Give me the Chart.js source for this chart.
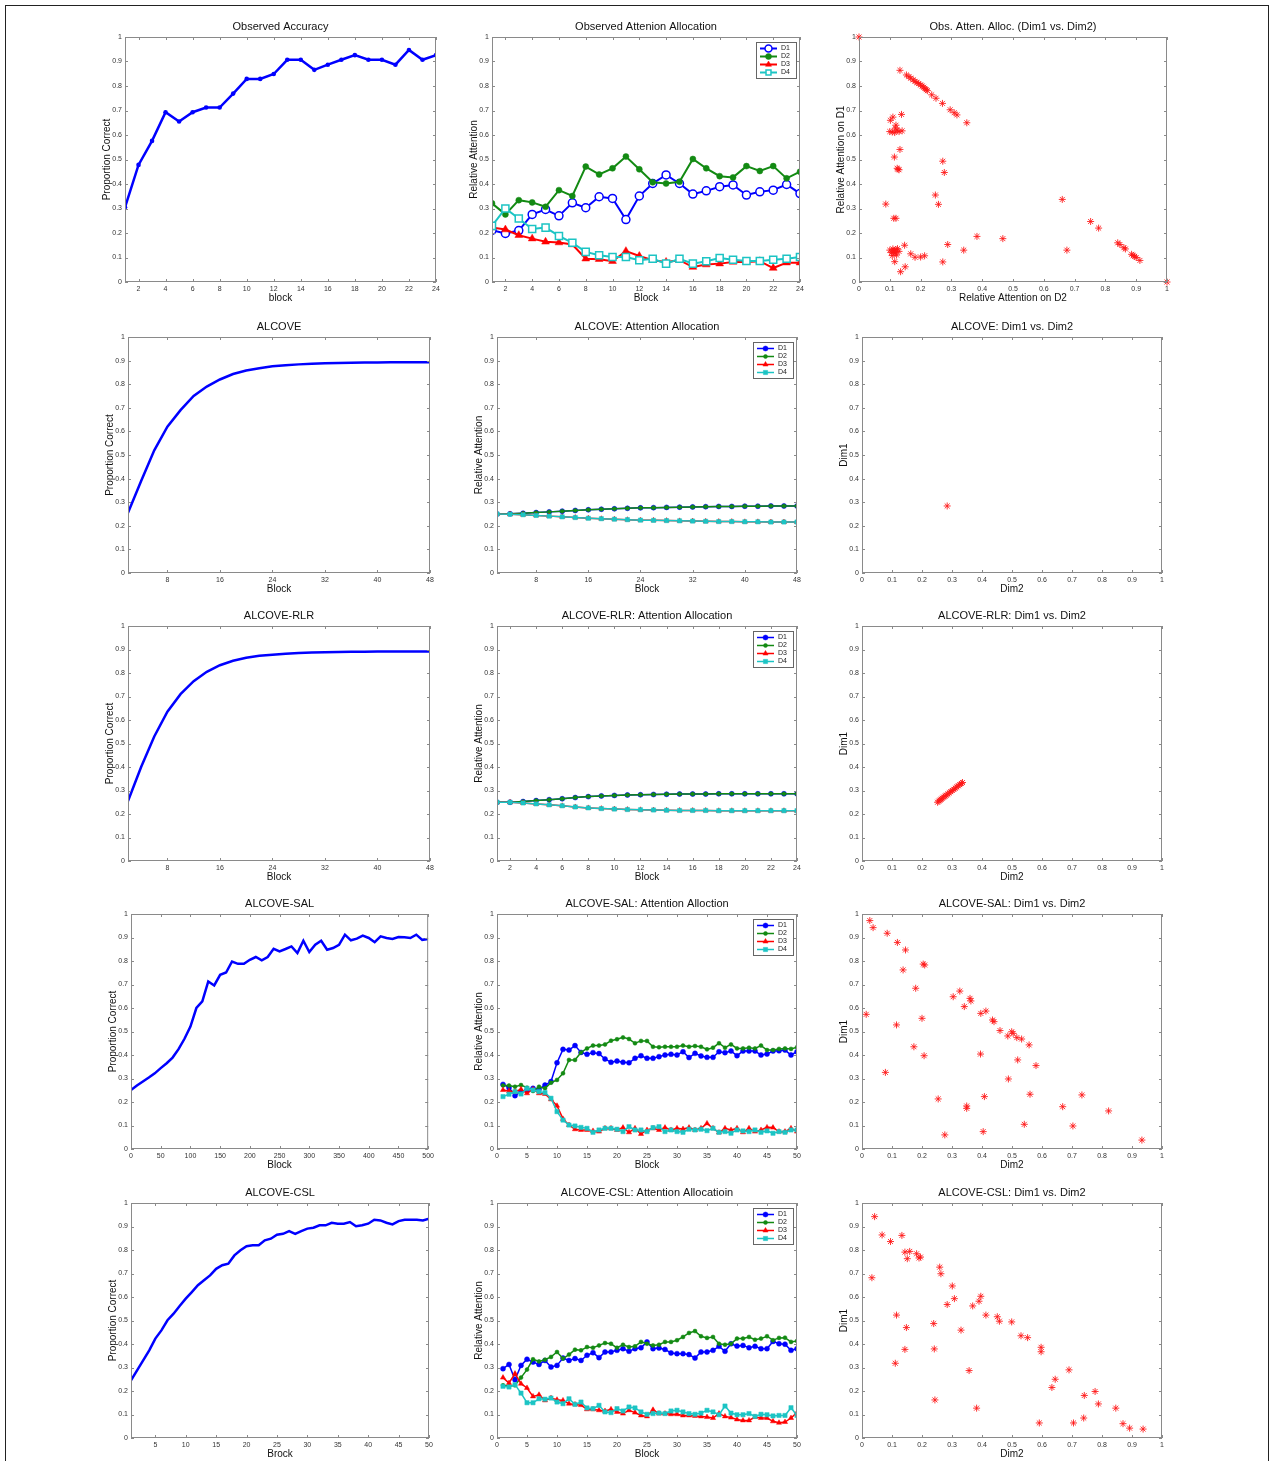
<!DOCTYPE html>
<html>
<head>
<meta charset="utf-8">
<title>Observed vs. ALCOVE attention allocation</title>
<script src="https://cdn.jsdelivr.net/npm/chart.js@4.4.0/dist/chart.umd.min.js"></script>
<style>
  html, body { margin: 0; padding: 0; background: #fff; overflow: hidden; }
  #page { position: relative; width: 1272px; height: 1461px; }
  #frame { position: absolute; left: 5px; top: 5px; width: 1262px; height: 1470px; border: 1px solid #222; }
  canvas { position: absolute; }
</style>
</head>
<body>
<div id="page"><div id="frame"></div></div>
<script>
// ===========================================
// DATA
// ===========================================

// block axes + tick labels
const blocks24 = [1, 2, 3, 4, 5, 6, 7, 8, 9, 10, 11, 12, 13, 14, 15, 16, 17, 18, 19, 20, 21, 22, 23, 24];
const ticks24 = [2, 4, 6, 8, 10, 12, 14, 16, 18, 20, 22, 24];
const blocksEven48 = [2, 4, 6, 8, 10, 12, 14, 16, 18, 20, 22, 24, 26, 28, 30, 32, 34, 36, 38, 40, 42, 44, 46, 48];
const ticks48 = [8, 16, 24, 32, 40, 48];
const blocks50 = [1, 2, 3, 4, 5, 6, 7, 8, 9, 10, 11, 12, 13, 14, 15, 16, 17, 18, 19, 20, 21, 22, 23, 24, 25,
  26, 27, 28, 29, 30, 31, 32, 33, 34, 35, 36, 37, 38, 39, 40, 41, 42, 43, 44, 45, 46, 47, 48, 49, 50];
const ticks50 = [0, 5, 10, 15, 20, 25, 30, 35, 40, 45, 50];
const ticks50NoZero = [5, 10, 15, 20, 25, 30, 35, 40, 45, 50];
const blocks500 = [0, 10, 20, 30, 40, 50, 60, 70, 80, 90, 100, 110, 120, 130, 140, 150, 160, 170, 180, 190, 200,
  210, 220, 230, 240, 250, 260, 270, 280, 290, 300, 310, 320, 330, 340, 350, 360, 370, 380, 390, 400,
  410, 420, 430, 440, 450, 460, 470, 480, 490, 500];
const ticks500 = [0, 50, 100, 150, 200, 250, 300, 350, 400, 450, 500];
const unitTicks = [0, 0.1, 0.2, 0.3, 0.4, 0.5, 0.6, 0.7, 0.8, 0.9, 1];

// row 1: observed
const obsAccuracy = [0.305, 0.478, 0.576, 0.693, 0.655, 0.693, 0.712, 0.712, 0.769, 0.829, 0.829, 0.849,
  0.907, 0.907, 0.866, 0.887, 0.907, 0.926, 0.907, 0.907, 0.887, 0.947, 0.907, 0.926];
const obsD1 = [0.211, 0.198, 0.21, 0.276, 0.296, 0.27, 0.323, 0.303, 0.348, 0.341, 0.255, 0.351,
  0.402, 0.437, 0.402, 0.359, 0.372, 0.389, 0.396, 0.355, 0.368, 0.375, 0.398, 0.361];
const obsD2 = [0.321, 0.276, 0.334, 0.325, 0.307, 0.375, 0.351, 0.471, 0.439, 0.464, 0.512, 0.46,
  0.407, 0.402, 0.409, 0.502, 0.464, 0.432, 0.427, 0.473, 0.453, 0.473, 0.423, 0.45];
const obsD3 = [0.222, 0.214, 0.191, 0.177, 0.164, 0.161, 0.153, 0.095, 0.093, 0.085, 0.126, 0.106,
  0.089, 0.082, 0.089, 0.061, 0.071, 0.075, 0.082, 0.082, 0.085, 0.057, 0.079, 0.079];
const obsD4 = [0.229, 0.3, 0.259, 0.216, 0.222, 0.188, 0.16, 0.123, 0.109, 0.102, 0.102, 0.089,
  0.095, 0.075, 0.095, 0.075, 0.085, 0.098, 0.091, 0.086, 0.086, 0.091, 0.095, 0.102];
const obsDim2 = [0, 1, 0.133, 0.154, 0.162, 0.168, 0.176, 0.182, 0.188, 0.194, 0.2, 0.205, 0.21, 0.214, 0.218, 0.222,
  0.236, 0.25, 0.271, 0.296, 0.309, 0.318, 0.35,
  0.102, 0.11, 0.138, 0.1, 0.108, 0.116, 0.12, 0.118, 0.124, 0.13, 0.14, 0.115, 0.133, 0.124, 0.13, 0.127,
  0.087, 0.113, 0.12,
  0.1, 0.105, 0.11, 0.112, 0.116, 0.12, 0.122, 0.125, 0.108, 0.115, 0.13, 0.118, 0.116,
  0.135, 0.15, 0.148, 0.168, 0.182, 0.2, 0.213,
  0.248, 0.258, 0.272, 0.277, 0.272, 0.288, 0.34, 0.383, 0.467,
  0.66, 0.675, 0.752, 0.778, 0.84, 0.847, 0.86, 0.865, 0.885, 0.89, 0.895, 0.9, 0.912];
const obsDim1 = [1, 0, 0.864, 0.845, 0.838, 0.832, 0.825, 0.819, 0.814, 0.81, 0.804, 0.8, 0.795, 0.79, 0.785, 0.781,
  0.764, 0.75, 0.729, 0.703, 0.691, 0.682, 0.65,
  0.66, 0.673, 0.684, 0.614, 0.612, 0.61, 0.64, 0.628, 0.62, 0.614, 0.617, 0.51, 0.541, 0.464, 0.458, 0.46,
  0.318, 0.26, 0.26,
  0.13, 0.12, 0.135, 0.125, 0.118, 0.132, 0.11, 0.136, 0.108, 0.128, 0.125, 0.12, 0.083,
  0.042, 0.062, 0.15, 0.115, 0.101, 0.102, 0.107,
  0.355, 0.317, 0.493, 0.447, 0.082, 0.153, 0.13, 0.186, 0.177,
  0.337, 0.13, 0.247, 0.22, 0.16, 0.153, 0.14, 0.135, 0.113, 0.108, 0.105, 0.1, 0.088];

// row 2: ALCOVE (D1 sits under D2, D3 under D4)
const alcoveAccuracy = [0.255, 0.39, 0.52, 0.62, 0.69, 0.75, 0.79, 0.82, 0.843, 0.858, 0.868, 0.876,
  0.88, 0.884, 0.887, 0.889, 0.89, 0.891, 0.892, 0.892, 0.893, 0.893, 0.893, 0.893];
const alcoveD12 = [0.25, 0.251, 0.253, 0.256, 0.259, 0.262, 0.265, 0.268, 0.27, 0.272, 0.274, 0.276,
  0.277, 0.278, 0.279, 0.28, 0.281, 0.282, 0.282, 0.283, 0.283, 0.284, 0.284, 0.284];
const alcoveD34 = [0.25, 0.249, 0.247, 0.244, 0.241, 0.238, 0.235, 0.232, 0.23, 0.228, 0.226, 0.224,
  0.223, 0.222, 0.221, 0.22, 0.219, 0.218, 0.218, 0.217, 0.217, 0.216, 0.216, 0.216];
const alcoveDim2 = [0.284];
const alcoveDim1 = [0.284];

// row 3: ALCOVE-RLR
const rlrAccuracy = [0.255, 0.4, 0.53, 0.635, 0.71, 0.765, 0.805, 0.833, 0.852, 0.865, 0.873, 0.878,
  0.882, 0.885, 0.887, 0.888, 0.889, 0.89, 0.89, 0.891, 0.891, 0.891, 0.892, 0.892];
const rlrD12 = [0.25, 0.25, 0.253, 0.257, 0.261, 0.265, 0.27, 0.274, 0.277, 0.279, 0.281, 0.282,
  0.283, 0.284, 0.285, 0.285, 0.285, 0.286, 0.286, 0.286, 0.286, 0.286, 0.286, 0.286];
const rlrD34 = [0.25, 0.25, 0.247, 0.243, 0.239, 0.235, 0.23, 0.226, 0.223, 0.221, 0.219, 0.218,
  0.217, 0.216, 0.215, 0.215, 0.215, 0.214, 0.214, 0.214, 0.214, 0.214, 0.214, 0.214];
const rlrDim2 = [0.252, 0.256, 0.26, 0.264, 0.268, 0.272, 0.277, 0.281, 0.286, 0.291, 0.296, 0.301, 0.306, 0.311, 0.316, 0.321, 0.326, 0.331, 0.335];
const rlrDim1 = [0.25, 0.255, 0.259, 0.263, 0.267, 0.272, 0.276, 0.28, 0.285, 0.29, 0.295, 0.3, 0.305, 0.31, 0.315, 0.32, 0.325, 0.33, 0.334];

// row 4: ALCOVE-SAL
const salAccuracy = [0.251, 0.27, 0.287, 0.304, 0.322, 0.344, 0.365, 0.389, 0.425, 0.469, 0.521, 0.6, 0.628,
  0.713, 0.696, 0.741, 0.751, 0.798, 0.788, 0.788, 0.805, 0.817, 0.803, 0.817, 0.852, 0.841, 0.851, 0.862,
  0.834, 0.886, 0.838, 0.869, 0.886, 0.848, 0.855, 0.869, 0.912, 0.888, 0.895, 0.908, 0.898, 0.88, 0.905,
  0.898, 0.894, 0.902, 0.901, 0.898, 0.912, 0.89, 0.894];
const salD1 = [0.275, 0.261, 0.227, 0.244, 0.251, 0.258, 0.254, 0.272, 0.287, 0.367, 0.424, 0.421, 0.44, 0.411, 0.403, 0.41, 0.406,
  0.383, 0.369, 0.374, 0.369, 0.367, 0.386, 0.397, 0.386, 0.386, 0.393, 0.4, 0.403, 0.4, 0.414, 0.389, 0.407, 0.396,
  0.39, 0.39, 0.414, 0.41, 0.417, 0.397, 0.417, 0.417, 0.417, 0.4, 0.404, 0.417, 0.418, 0.421, 0.4, 0.414];
const salD2 = [0.27, 0.27, 0.265, 0.272, 0.261, 0.247, 0.265, 0.258, 0.282, 0.294, 0.322, 0.379, 0.379, 0.411, 0.428, 0.44, 0.44,
  0.445, 0.461, 0.467, 0.475, 0.468, 0.45, 0.46, 0.46, 0.435, 0.433, 0.435, 0.435, 0.435, 0.44, 0.435, 0.438, 0.435,
  0.424, 0.431, 0.45, 0.431, 0.445, 0.428, 0.428, 0.431, 0.428, 0.44, 0.421, 0.421, 0.426, 0.428, 0.426, 0.433];
const salD3 = [0.251, 0.247, 0.244, 0.254, 0.237, 0.254, 0.237, 0.234, 0.211, 0.184, 0.128, 0.102, 0.084, 0.081, 0.081, 0.077, 0.074,
  0.088, 0.088, 0.081, 0.091, 0.071, 0.088, 0.064, 0.081, 0.088, 0.081, 0.091, 0.081, 0.088, 0.085, 0.091, 0.081, 0.088,
  0.109, 0.088, 0.07, 0.088, 0.081, 0.088, 0.071, 0.088, 0.074, 0.081, 0.092, 0.091, 0.074, 0.074, 0.088, 0.074];
const salD4 = [0.223, 0.233, 0.244, 0.234, 0.258, 0.251, 0.244, 0.24, 0.216, 0.159, 0.123, 0.102, 0.098, 0.092, 0.088, 0.071, 0.081,
  0.088, 0.088, 0.084, 0.074, 0.095, 0.081, 0.081, 0.074, 0.091, 0.095, 0.074, 0.081, 0.074, 0.071, 0.084, 0.081, 0.084,
  0.078, 0.088, 0.071, 0.074, 0.067, 0.081, 0.077, 0.074, 0.081, 0.071, 0.077, 0.067, 0.074, 0.071, 0.081, 0.081];
const salDim2 = [0.026, 0.037, 0.084, 0.118, 0.145, 0.137, 0.204, 0.209, 0.179, 0.014, 0.115, 0.2, 0.173, 0.207, 0.078,
  0.304, 0.326, 0.341, 0.36, 0.363, 0.396, 0.413, 0.435, 0.44, 0.46, 0.486, 0.499, 0.504, 0.516, 0.532, 0.557,
  0.395, 0.519, 0.58, 0.488, 0.254, 0.349, 0.349, 0.408, 0.56, 0.276, 0.404, 0.541, 0.669, 0.703, 0.733, 0.822, 0.933];
const salDim1 = [0.972, 0.942, 0.918, 0.879, 0.847, 0.762, 0.787, 0.783, 0.684, 0.573, 0.528, 0.556, 0.435, 0.397, 0.326,
  0.648, 0.672, 0.606, 0.641, 0.63, 0.577, 0.587, 0.549, 0.542, 0.504, 0.481, 0.499, 0.492, 0.474, 0.468, 0.443,
  0.404, 0.379, 0.355, 0.298, 0.213, 0.183, 0.173, 0.223, 0.233, 0.06, 0.074, 0.105, 0.18, 0.098, 0.23, 0.162, 0.038];

// row 5: ALCOVE-CSL
const cslAccuracy = [0.245, 0.288, 0.33, 0.373, 0.423, 0.458, 0.501, 0.529, 0.562, 0.593, 0.621, 0.65, 0.671, 0.692, 0.72,
  0.735, 0.742, 0.777, 0.799, 0.816, 0.82, 0.82, 0.841, 0.848, 0.865, 0.869, 0.88, 0.869, 0.88, 0.891, 0.895, 0.905,
  0.905, 0.916, 0.912, 0.912, 0.919, 0.901, 0.905, 0.912, 0.929, 0.926, 0.916, 0.909, 0.923, 0.929, 0.929, 0.929, 0.926, 0.933];
const cslD1 = [0.295, 0.313, 0.248, 0.309, 0.335, 0.323, 0.313, 0.33, 0.302, 0.309, 0.34, 0.33, 0.338, 0.33, 0.352, 0.363, 0.342,
  0.366, 0.366, 0.373, 0.38, 0.369, 0.38, 0.384, 0.409, 0.38, 0.383, 0.377, 0.362, 0.359, 0.359, 0.355, 0.34, 0.366,
  0.366, 0.373, 0.39, 0.369, 0.401, 0.391, 0.394, 0.384, 0.39, 0.38, 0.38, 0.411, 0.401, 0.399, 0.373, 0.38];
const cslD2 = [0.224, 0.22, 0.224, 0.257, 0.291, 0.335, 0.326, 0.333, 0.345, 0.366, 0.338, 0.355, 0.376, 0.373, 0.387, 0.384, 0.394,
  0.404, 0.401, 0.384, 0.397, 0.387, 0.39, 0.409, 0.401, 0.394, 0.397, 0.409, 0.409, 0.416, 0.43, 0.447, 0.455, 0.433,
  0.426, 0.43, 0.401, 0.397, 0.401, 0.423, 0.423, 0.43, 0.418, 0.423, 0.433, 0.416, 0.426, 0.427, 0.409, 0.413];
const cslD3 = [0.257, 0.234, 0.274, 0.231, 0.213, 0.177, 0.184, 0.16, 0.17, 0.163, 0.16, 0.146, 0.143, 0.14, 0.122, 0.122, 0.118,
  0.115, 0.122, 0.111, 0.104, 0.118, 0.108, 0.096, 0.092, 0.12, 0.104, 0.104, 0.101, 0.101, 0.096, 0.096, 0.094, 0.092,
  0.089, 0.085, 0.104, 0.092, 0.087, 0.079, 0.075, 0.075, 0.089, 0.085, 0.085, 0.071, 0.065, 0.068, 0.085, 0.108];
const cslD4 = [0.22, 0.217, 0.227, 0.191, 0.15, 0.15, 0.167, 0.165, 0.17, 0.153, 0.146, 0.167, 0.143, 0.153, 0.128, 0.125, 0.139,
  0.111, 0.108, 0.125, 0.115, 0.132, 0.128, 0.111, 0.101, 0.104, 0.106, 0.104, 0.115, 0.118, 0.111, 0.104, 0.101, 0.106,
  0.118, 0.111, 0.099, 0.136, 0.106, 0.099, 0.099, 0.104, 0.092, 0.101, 0.099, 0.094, 0.096, 0.096, 0.129, 0.096];
const cslDim2 = [0.042, 0.067, 0.095, 0.133, 0.143, 0.159, 0.151, 0.182, 0.19, 0.195, 0.033, 0.259, 0.263, 0.301, 0.308,
  0.284, 0.369, 0.39, 0.396, 0.413, 0.451, 0.458, 0.499, 0.115, 0.148, 0.239, 0.33, 0.143, 0.241, 0.111, 0.53, 0.552,
  0.597, 0.597, 0.357, 0.243, 0.382, 0.591, 0.633, 0.644, 0.69, 0.705, 0.741, 0.739, 0.777, 0.788, 0.846, 0.87, 0.892, 0.937];
const cslDim1 = [0.942, 0.864, 0.836, 0.862, 0.791, 0.794, 0.763, 0.784, 0.766, 0.77, 0.682, 0.727, 0.699, 0.647, 0.593,
  0.568, 0.562, 0.582, 0.603, 0.523, 0.516, 0.497, 0.494, 0.523, 0.47, 0.487, 0.459, 0.377, 0.379, 0.318, 0.435, 0.427,
  0.386, 0.367, 0.287, 0.162, 0.127, 0.064, 0.215, 0.25, 0.29, 0.064, 0.181, 0.085, 0.198, 0.145, 0.127, 0.061, 0.042, 0.038];

// ===========================================
// STYLE
// ===========================================
const FONT = '"Liberation Sans", Arial, Helvetica, sans-serif';
const BLUE = '#0000ff', GREEN = '#138a13', RED = '#ff0000', CYAN = '#1cc4c4';
const AXIS_GRAY = '#8a8a8a';
const PAD_L = 26, PAD_T = 26, PAD_R = 8, PAD_B = 24;

// plot-area boxes per column (left, right) and row (top, bottom)
const COLS = [[[125, 436], [492, 800], [859, 1167]],
              [[128, 430], [497, 797], [862, 1162]],
              [[128, 430], [497, 797], [862, 1162]],
              [[131, 429], [497, 797], [862, 1162]],
              [[131, 429], [497, 797], [862, 1162]]];
const ROWS = [[37, 282], [337, 573], [626, 861], [914, 1149], [1203, 1438]];

// MATLAB-ish axes box with inward ticks on all four sides
const axesBox = {
  id: 'axesBox',
  afterDatasetsDraw(chart) {
    const { ctx, chartArea: a, scales: { x, y } } = chart;
    ctx.save();
    ctx.strokeStyle = AXIS_GRAY;
    ctx.lineWidth = 1;
    ctx.strokeRect(a.left + 0.5, a.top + 0.5, a.right - a.left - 1, a.bottom - a.top - 1);
    ctx.beginPath();
    x.ticks.forEach(t => {
      const px = Math.round(x.getPixelForValue(t.value)) + 0.5;
      ctx.moveTo(px, a.bottom); ctx.lineTo(px, a.bottom - 3);
      ctx.moveTo(px, a.top); ctx.lineTo(px, a.top + 3);
    });
    y.ticks.forEach(t => {
      const py = Math.round(y.getPixelForValue(t.value)) + 0.5;
      ctx.moveTo(a.left, py); ctx.lineTo(a.left + 3, py);
      ctx.moveTo(a.right, py); ctx.lineTo(a.right - 3, py);
    });
    ctx.stroke();
    ctx.restore();
  }
};

// small boxed legend in the top right of the plot area
const boxLegend = {
  id: 'boxLegend',
  afterDraw(chart, args, opts) {
    if (!opts.show) return;
    const { ctx, chartArea: a } = chart;
    const sets = chart.data.datasets;
    const rowH = 8, w = 40, h = sets.length * rowH + 4;
    const x0 = Math.round(a.right - w - 4), y0 = Math.round(a.top + 5);
    ctx.save();
    ctx.fillStyle = '#fff';
    ctx.fillRect(x0, y0, w, h);
    ctx.strokeStyle = '#666';
    ctx.lineWidth = 1;
    ctx.strokeRect(x0 + 0.5, y0 + 0.5, w, h);
    sets.forEach((ds, i) => {
      const cy = y0 + 2 + rowH * i + rowH / 2 + 0.5;
      ctx.strokeStyle = ds.borderColor;
      ctx.lineWidth = ds.borderWidth;
      ctx.beginPath(); ctx.moveTo(x0 + 4, cy); ctx.lineTo(x0 + 21, cy); ctx.stroke();
      ctx.fillStyle = ds.pointBackgroundColor;
      ctx.strokeStyle = ds.pointBorderColor;
      ctx.lineWidth = ds.pointBorderWidth;
      Chart.helpers.drawPoint(ctx, { pointStyle: ds.pointStyle, radius: Math.min(ds.pointRadius, 3.5), rotation: 0, borderWidth: ds.pointBorderWidth }, x0 + 12.5, cy);
      ctx.fillStyle = '#222';
      ctx.font = '7px ' + FONT;
      ctx.textBaseline = 'middle';
      ctx.fillText(ds.label, x0 + 25, cy);
    });
    ctx.restore();
  }
};

Chart.register(axesBox, boxLegend);

// ===========================================
// DATASET HELPERS
// ===========================================
function accuracySet(values, withDots) {
  return {
    label: 'Accuracy', data: values, borderColor: BLUE, backgroundColor: BLUE, borderWidth: 2.5,
    pointRadius: withDots ? 2.3 : 0, pointStyle: 'circle', pointBackgroundColor: BLUE, pointBorderWidth: 0
  };
}

function attnSet(label, values, color, marker, radius, hollow, lineWidth, order) {
  return {
    label, data: values, order,
    borderColor: color, backgroundColor: color, borderWidth: lineWidth,
    pointStyle: marker, pointRadius: radius,
    pointBackgroundColor: hollow ? '#fff' : color, pointBorderColor: color,
    pointBorderWidth: hollow ? 1.5 : 0.5
  };
}

function observedAttnSets() {
  return [
    attnSet('D1', obsD1, BLUE, 'circle', 4, true, 2, 4),
    attnSet('D2', obsD2, GREEN, 'circle', 3, false, 2, 3),
    attnSet('D3', obsD3, RED, 'triangle', 4.5, false, 2, 2),
    attnSet('D4', obsD4, CYAN, 'rect', 5, true, 2, 1)
  ];
}

function modelAttnSets(d1, d2, d3, d4) {
  return [
    attnSet('D1', d1, BLUE, 'circle', 2.5, false, 1.5, 4),
    attnSet('D2', d2, GREEN, 'circle', 2, false, 1.5, 3),
    attnSet('D3', d3, RED, 'triangle', 3, false, 1.5, 2),
    attnSet('D4', d4, CYAN, 'rect', 3, false, 1.5, 1)
  ];
}

function starSet(xs, ys) {
  return {
    label: 'Dim1 vs. Dim2', data: xs.map((x, i) => ({ x, y: ys[i] })), showLine: false, clip: 4,
    pointStyle: 'star', pointRadius: 3.5, pointBorderWidth: 1,
    pointBorderColor: 'rgba(255,20,20,0.85)', pointBackgroundColor: 'rgba(255,20,20,0.85)', borderColor: RED
  };
}

function axis(isX, min, max, tickValues, titleText) {
  return {
    type: 'linear', min, max,
    afterBuildTicks: s => { s.ticks = tickValues.map(v => ({ value: v })); },
    afterFit: s => { if (isX) s.height = PAD_B; else s.width = PAD_L; },
    grid: { display: false, drawTicks: false },
    border: { display: false },
    ticks: { font: { family: FONT, size: 7 }, color: '#333', padding: 3, autoSkip: false, maxRotation: 0, callback: v => String(v) },
    title: {
      display: true, text: titleText, color: '#111',
      font: { family: FONT, size: 10 },
      padding: isX ? { top: 0, bottom: 2 } : { top: 2, bottom: 0 }
    }
  };
}

// ===========================================
// PANEL BUILDER
// ===========================================
function makePanel(row, col, spec) {
  const [l, r] = COLS[row][col];
  const [t, b] = ROWS[row];
  const canvas = document.createElement('canvas');
  canvas.width = r - l + PAD_L + PAD_R;
  canvas.height = b - t + PAD_T + PAD_B;
  canvas.style.left = (l - PAD_L) + 'px';
  canvas.style.top = (t - PAD_T) + 'px';
  document.getElementById('page').appendChild(canvas);

  return new Chart(canvas, {
    type: 'line',
    data: { labels: spec.labels || [], datasets: spec.datasets },
    options: {
      responsive: false,
      animation: false,
      events: [],
      layout: { padding: { top: 8, right: PAD_R, left: 0, bottom: 0 }, autoPadding: false },
      plugins: {
        legend: { display: false },
        tooltip: { enabled: false },
        title: {
          display: true, text: spec.title, fullSize: false, color: '#111',
          font: { family: FONT, size: 11, weight: 'normal', lineHeight: 1 },
          padding: { top: 2, bottom: 5 }
        },
        boxLegend: { show: !!spec.legend }
      },
      scales: {
        x: axis(true, spec.xMin, spec.xMax, spec.xTicks, spec.xTitle),
        y: axis(false, 0, 1, unitTicks, spec.yTitle)
      }
    }
  });
}

// ===========================================
// BUILD THE 5 x 3 GRID
// ===========================================
// row 1: observed data
makePanel(0, 0, { title: 'Observed Accuracy', labels: blocks24, datasets: [accuracySet(obsAccuracy, true)],
  xMin: 1, xMax: 24, xTicks: ticks24, xTitle: 'block', yTitle: 'Proportion Correct' });
makePanel(0, 1, { title: 'Observed Attenion Allocation', labels: blocks24, datasets: observedAttnSets(), legend: true,
  xMin: 1, xMax: 24, xTicks: ticks24, xTitle: 'Block', yTitle: 'Relative Attention' });
makePanel(0, 2, { title: 'Obs. Atten. Alloc. (Dim1 vs. Dim2)', datasets: [starSet(obsDim2, obsDim1)],
  xMin: 0, xMax: 1, xTicks: unitTicks, xTitle: 'Relative Attention on D2', yTitle: 'Relative Attention on D1' });

// row 2: ALCOVE
makePanel(1, 0, { title: 'ALCOVE', labels: blocksEven48, datasets: [accuracySet(alcoveAccuracy, false)],
  xMin: 2, xMax: 48, xTicks: ticks48, xTitle: 'Block', yTitle: 'Proportion Correct' });
makePanel(1, 1, { title: 'ALCOVE: Attention Allocation', labels: blocksEven48, legend: true,
  datasets: modelAttnSets(alcoveD12, alcoveD12, alcoveD34, alcoveD34),
  xMin: 2, xMax: 48, xTicks: ticks48, xTitle: 'Block', yTitle: 'Relative Attention' });
makePanel(1, 2, { title: 'ALCOVE: Dim1 vs. Dim2', datasets: [starSet(alcoveDim2, alcoveDim1)],
  xMin: 0, xMax: 1, xTicks: unitTicks, xTitle: 'Dim2', yTitle: 'Dim1' });

// row 3: ALCOVE-RLR
makePanel(2, 0, { title: 'ALCOVE-RLR', labels: blocksEven48, datasets: [accuracySet(rlrAccuracy, false)],
  xMin: 2, xMax: 48, xTicks: ticks48, xTitle: 'Block', yTitle: 'Proportion Correct' });
makePanel(2, 1, { title: 'ALCOVE-RLR: Attention Allocation', labels: blocks24, legend: true,
  datasets: modelAttnSets(rlrD12, rlrD12, rlrD34, rlrD34),
  xMin: 1, xMax: 24, xTicks: ticks24, xTitle: 'Block', yTitle: 'Relative Attention' });
makePanel(2, 2, { title: 'ALCOVE-RLR: Dim1 vs. Dim2', datasets: [starSet(rlrDim2, rlrDim1)],
  xMin: 0, xMax: 1, xTicks: unitTicks, xTitle: 'Dim2', yTitle: 'Dim1' });

// row 4: ALCOVE-SAL
makePanel(3, 0, { title: 'ALCOVE-SAL', labels: blocks500, datasets: [accuracySet(salAccuracy, false)],
  xMin: 0, xMax: 500, xTicks: ticks500, xTitle: 'Block', yTitle: 'Proportion Correct' });
makePanel(3, 1, { title: 'ALCOVE-SAL: Attention Alloction', labels: blocks50, legend: true,
  datasets: modelAttnSets(salD1, salD2, salD3, salD4),
  xMin: 0, xMax: 50, xTicks: ticks50, xTitle: 'Block', yTitle: 'Relative Attention' });
makePanel(3, 2, { title: 'ALCOVE-SAL: Dim1 vs. Dim2', datasets: [starSet(salDim2, salDim1)],
  xMin: 0, xMax: 1, xTicks: unitTicks, xTitle: 'Dim2', yTitle: 'Dim1' });

// row 5: ALCOVE-CSL
makePanel(4, 0, { title: 'ALCOVE-CSL', labels: blocks50, datasets: [accuracySet(cslAccuracy, false)],
  xMin: 1, xMax: 50, xTicks: ticks50NoZero, xTitle: 'Brock', yTitle: 'Proportion Correct' });
makePanel(4, 1, { title: 'ALCOVE-CSL: Attention Allocatioin', labels: blocks50, legend: true,
  datasets: modelAttnSets(cslD1, cslD2, cslD3, cslD4),
  xMin: 0, xMax: 50, xTicks: ticks50, xTitle: 'Block', yTitle: 'Relative Attention' });
makePanel(4, 2, { title: 'ALCOVE-CSL: Dim1 vs. Dim2', datasets: [starSet(cslDim2, cslDim1)],
  xMin: 0, xMax: 1, xTicks: unitTicks, xTitle: 'Dim2', yTitle: 'Dim1' });
</script>
</body>
</html>
